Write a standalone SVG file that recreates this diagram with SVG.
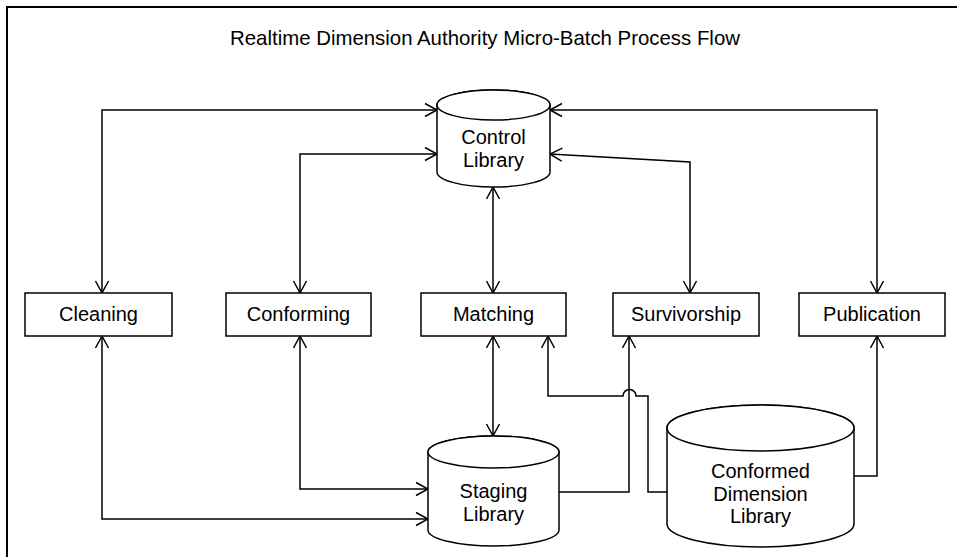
<svg xmlns="http://www.w3.org/2000/svg" width="957" height="557" viewBox="0 0 957 557">
<style>
  .frame { fill: #fff; stroke: #000; stroke-width: 2; }
  .node { fill: #fff; stroke: #000; stroke-width: 1.5; }
  .lbl { font-family: "Liberation Sans", Arial, sans-serif; font-size: 20px; fill: #000; text-anchor: middle; }
  .title { font-size: 20.4px; }
  .conn { fill: none; stroke: #000; stroke-width: 1.5; }
  .bi { marker-start: url(#arr); marker-end: url(#arr); }
  .uni { marker-end: url(#arr); }
</style>
<defs>
  <marker id="arr" viewBox="-14 -8 16 16" refX="0" refY="0" markerWidth="16" markerHeight="16" markerUnits="userSpaceOnUse" orient="auto-start-reverse">
    <path d="M-12,-6.5 L0,0 L-12,6.5" fill="none" stroke="#000" stroke-width="1.5"/>
  </marker>
</defs>
<rect x="0" y="0" width="957" height="557" fill="#fff"/>
<rect class="frame" x="7" y="7" width="970" height="570"/>
<text class="lbl title" x="485" y="45">Realtime Dimension Authority Micro-Batch Process Flow</text>

<g id="connectors">
  <path class="conn bi" d="M102,293 V110 H437"/>
  <path class="conn bi" d="M300,293 V154 H437"/>
  <path class="conn bi" d="M493,293 V187"/>
  <path class="conn bi" d="M690,293 V162 L550,154"/>
  <path class="conn bi" d="M877,293 V110 H550"/>
  <path class="conn bi" d="M102,336 V519 H428"/>
  <path class="conn bi" d="M300,336 V489 H428"/>
  <path class="conn bi" d="M493,336 V436"/>
  <path class="conn uni" d="M559,492 H629 V336"/>
  <path class="conn uni" d="M667,492 H648 V396 H636 A6.5,6.5 0 0 0 623,396 H548 V336"/>
  <path class="conn uni" d="M854,476 H877 V336"/>
</g>

<g id="control-library">
  <path class="node" d="M437,105 V172 A56.5,15 0 0 0 550,172 V105 A56.5,15 0 0 0 437,105 Z"/>
  <ellipse class="node" cx="493.5" cy="105" rx="56.5" ry="15"/>
  <text class="lbl" x="493.5" y="144">Control</text>
  <text class="lbl" x="493.5" y="167">Library</text>
</g>

<g id="cleaning">
  <rect class="node" x="25" y="293" width="147" height="43"/>
  <text class="lbl" x="98.5" y="321">Cleaning</text>
</g>
<g id="conforming">
  <rect class="node" x="226" y="293" width="145" height="43"/>
  <text class="lbl" x="298.5" y="321">Conforming</text>
</g>
<g id="matching">
  <rect class="node" x="421" y="293" width="145" height="43"/>
  <text class="lbl" x="493.5" y="321">Matching</text>
</g>
<g id="survivorship">
  <rect class="node" x="613" y="293" width="146" height="43"/>
  <text class="lbl" x="686" y="321">Survivorship</text>
</g>
<g id="publication">
  <rect class="node" x="799" y="293" width="146" height="43"/>
  <text class="lbl" x="872" y="321">Publication</text>
</g>

<g id="staging-library">
  <path class="node" d="M428,452 V530 A65.5,16 0 0 0 559,530 V452 A65.5,16 0 0 0 428,452 Z"/>
  <ellipse class="node" cx="493.5" cy="452" rx="65.5" ry="16"/>
  <text class="lbl" x="493.5" y="498">Staging</text>
  <text class="lbl" x="493.5" y="521">Library</text>
</g>

<g id="conformed-dimension-library">
  <path class="node" d="M667,428 V524 A93.5,23 0 0 0 854,524 V428 A93.5,23 0 0 0 667,428 Z"/>
  <ellipse class="node" cx="760.5" cy="428" rx="93.5" ry="23"/>
  <text class="lbl" x="760.5" y="478">Conformed</text>
  <text class="lbl" x="760.5" y="501">Dimension</text>
  <text class="lbl" x="760.5" y="523">Library</text>
</g>
</svg>
